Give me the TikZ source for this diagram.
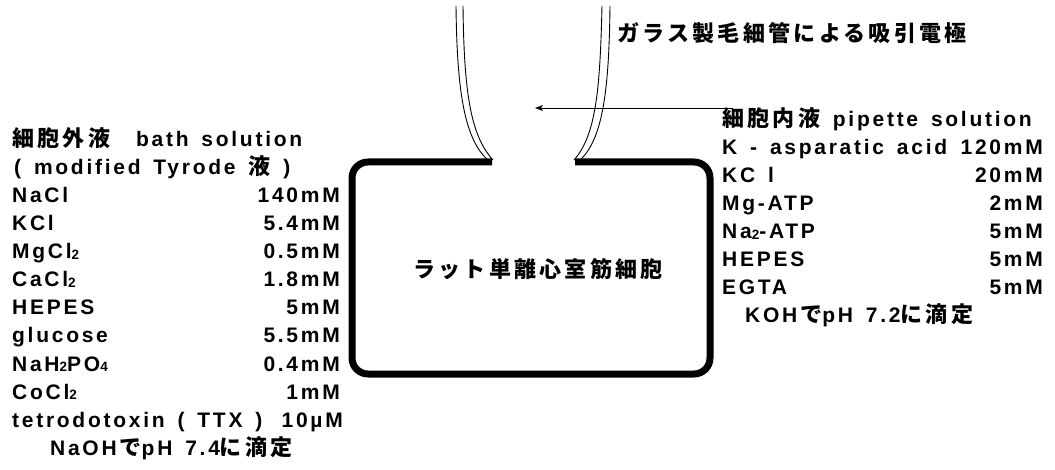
\documentclass[tikz,border=0pt]{standalone}
\usepackage{fontspec}
\setmainfont{Liberation Sans}[LetterSpace=13, WordSpace=1.5]
\newfontfamily\cjkfont{Noto Sans CJK JP}[LetterSpace=15]
\usetikzlibrary{arrows.meta}
\newcommand\J[1]{{\cjkfont\fontsize{22}{22}\selectfont #1}}
\newcommand\subn[1]{\raisebox{-0.8pt}{\fontsize{13.5}{13.5}\selectfont #1}}
\begin{document}
\begin{tikzpicture}[x=1pt,y=-1pt,
  txt/.style={inner sep=0pt, font=\fontsize{21}{21}\selectfont\bfseries},
  nm/.style={txt, anchor=base west},
  vl/.style={txt, anchor=base east},
  membrane/.style={line width=7pt, rounded corners=16pt},
  glass/.style={line width=0.9pt},
  pointer/.style={line width=0.9pt, -{Stealth[length=8pt,width=6pt,inset=2pt]}}]
\useasboundingbox (0,0) rectangle (1055,470);

% cell membrane
\draw[membrane] (492,162) -- (352,162) -- (352,374) -- (710,374) -- (710,162) -- (575,162);
\node[txt, anchor=center] (cell) at (538,269) {\J{ラット単離心室筋細胞}};

% glass pipette walls
\draw[glass] (456,6) .. controls (457,90) and (464,140) .. (489,161);
\draw[glass] (463,6) .. controls (464,90) and (470,135) .. (493,160);
\draw[glass] (602,6) .. controls (600,90) and (596,135) .. (574,160);
\draw[glass] (610,6) .. controls (609,90) and (603,140) .. (579,161);
\node[txt, anchor=center] (pip) at (792,33) {\J{ガラス製毛細管による吸引電極}};

% bath solution
\node[nm] (b0) at (12,147) {\J{細胞外液}\hspace{26pt}bath solution};
\node[nm] (b1) at (14,175) {( modified Tyrode \J{液} )};
\node[nm] (b2) at (12,203) {NaCl};
\node[vl] (v2) at (340,203) {140mM};
\node[nm] (b3) at (12,231) {KCl};
\node[vl] (v3) at (340,231) {5.4mM};
\node[nm] (b4) at (12,259) {MgCl\subn{2}};
\node[vl] (v4) at (340,259) {0.5mM};
\node[nm] (b5) at (12,287) {CaCl\subn{2}};
\node[vl] (v5) at (340,287) {1.8mM};
\node[nm] (b6) at (12,315) {HEPES};
\node[vl] (v6) at (340,315) {5mM};
\node[nm] (b7) at (12,343) {glucose};
\node[vl] (v7) at (340,343) {5.5mM};
\node[nm] (b8) at (12,371) {NaH\subn{2}PO\subn{4}};
\node[vl] (v8) at (340,371) {0.4mM};
\node[nm] (b9) at (12,399) {CoCl\subn{2}};
\node[vl] (v9) at (340,399) {1mM};
\node[nm] (b10) at (12,427) {tetrodotoxin ( TTX )};
\node[vl] (v10) at (343,427) {10µM};
\node[nm] (b11) at (50,455) {NaOH\hspace{3pt}\J{で}pH 7.4\J{に滴定}};

% pipette solution
\node[nm] (p0) at (722,127) {\J{細胞内液} pipette solution};
\node[nm] (p1) at (722,155) {K - asparatic acid};
\node[vl] (w1) at (1043,155) {120mM};
\node[nm] (p2) at (722,183) {KC l};
\node[vl] (w2) at (1043,183) {20mM};
\node[nm] (p3) at (722,211) {Mg-ATP};
\node[vl] (w3) at (1043,211) {2mM};
\node[nm] (p4) at (722,239) {Na\subn{2}-ATP};
\node[vl] (w4) at (1043,239) {5mM};
\node[nm] (p5) at (722,267) {HEPES};
\node[vl] (w5) at (1043,267) {5mM};
\node[nm] (p6) at (722,295) {EGTA};
\node[vl] (w6) at (1043,295) {5mM};
\node[nm] (p7) at (745,323) {KOH\hspace{3pt}\J{で}pH 7.2\J{に滴定}};

% pointer from pipette-solution label into the pipette
\coordinate (arrS) at (733,108);
\coordinate (arrE) at (535,108);
\draw[pointer] (arrS) -- (arrE);
\end{tikzpicture}
\end{document}
